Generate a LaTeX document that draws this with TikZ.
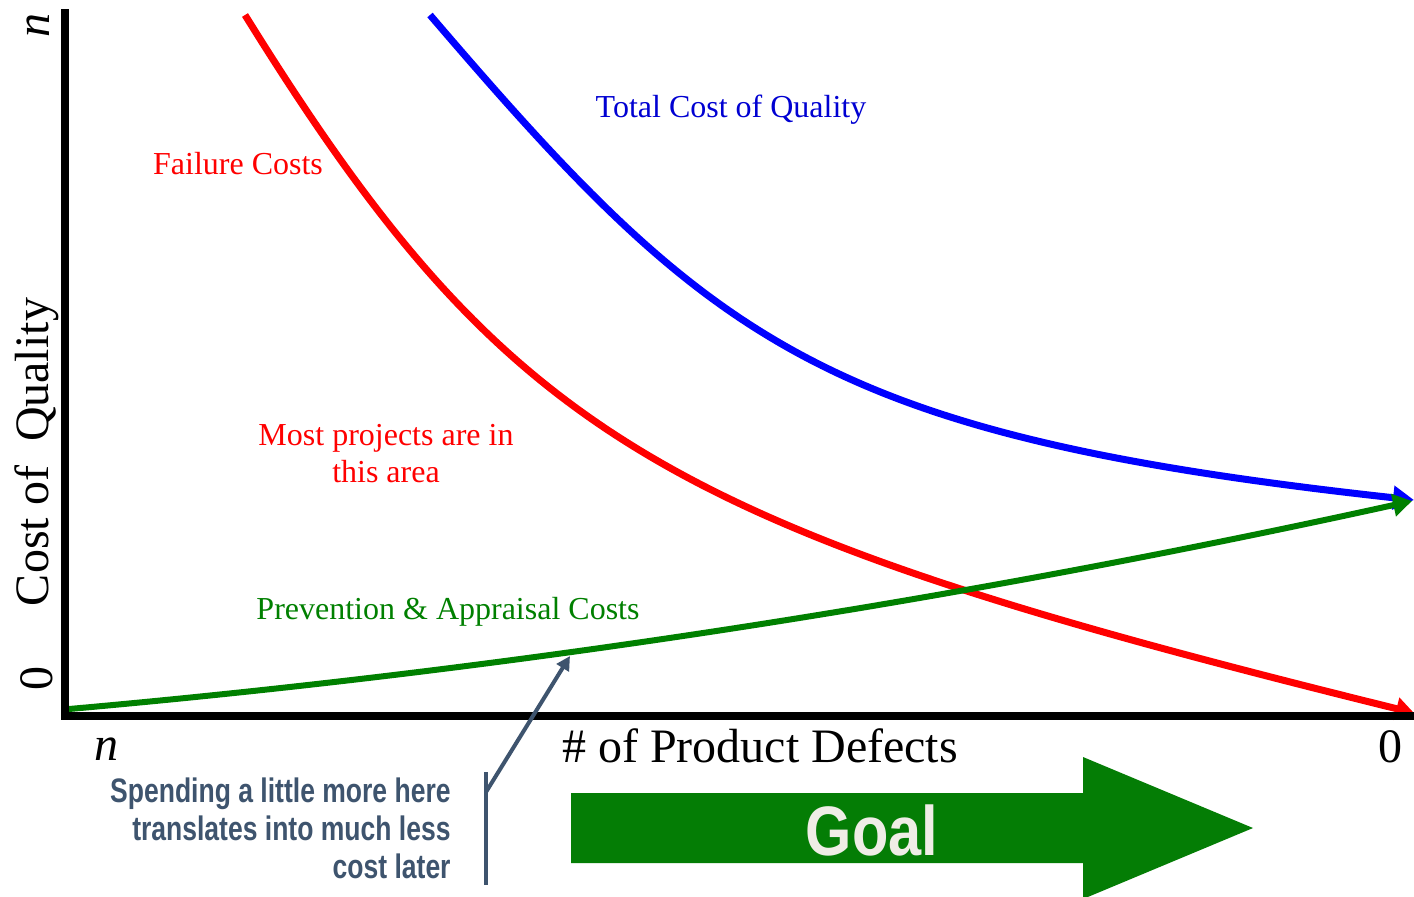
\documentclass[tikz,border=0pt]{standalone}
\usepackage{fontspec}
\setmainfont{Liberation Serif}
\newfontfamily\narrowsans[FakeStretch=0.78]{Liberation Sans}
\newfontfamily\goalsans[FakeStretch=0.85]{Liberation Sans}
\usetikzlibrary{arrows.meta}
\definecolor{curvered}{RGB}{255,0,0}
\definecolor{curveblue}{RGB}{0,0,255}
\definecolor{labelblue}{RGB}{0,0,210}
\definecolor{curvegreen}{RGB}{0,128,0}
\definecolor{goalgreen}{RGB}{4,125,5}
\definecolor{goaltext}{RGB}{239,237,230}
\definecolor{slate}{RGB}{62,84,110}
\tikzset{
  axisline/.style={line width=4pt, line cap=butt},
  curve/.style={line width=3.5pt, line cap=butt},
  curvelabel/.style={inner sep=0pt, anchor=base, font=\fontsize{16}{18.5}\selectfont},
  axislabel/.style={inner sep=0pt, font=\fontsize{24}{28}\selectfont},
  notetext/.style={inner sep=0pt, text=slate, align=right, font=\narrowsans\bfseries\fontsize{17}{19}\selectfont},
}
\begin{document}
\begin{tikzpicture}[x=0.5pt,y=-0.5pt]
\path[use as bounding box, fill=white] (0,0) rectangle (1414,896);

% curve end points
\coordinate (redstart) at (245,15);
\coordinate (redend) at (1414,713);
\coordinate (bluestart) at (430,15);
\coordinate (blueend) at (1414,500);
\coordinate (greenstart) at (69,709);
\coordinate (greenend) at (1412,501);

% curves
\draw[curve, curvered, -{Triangle[length=9pt,width=11pt]}]
  (redstart) .. controls (510,442) and (666,528) .. (redend);
\draw[curve, curveblue, -{Triangle[length=10.5pt,width=11.5pt]}]
  (bluestart) .. controls (711,343) and (822,435) .. (blueend);
\draw[curve, line width=3pt, curvegreen, -{Triangle[length=9.5pt,width=11pt]}]
  (greenstart) .. controls (519,669) and (962,600) .. (greenend);

% axes
\coordinate (origin) at (64.5,715.5);
\coordinate (ytop) at (64.5,9);
\coordinate (xend) at (1414,715.5);
\draw[axisline] (ytop) -- (origin) -- (xend);

% axis labels
\node[axislabel, rotate=90] (ymax) at (38,25) {\itshape n};
\node[axislabel, rotate=90] (yzero) at (37,678) {0};
\node[axislabel, rotate=90] (ytitle) at (37,452) {Cost of\ \ Quality};
\node[axislabel, anchor=base] (xmax) at (106,760) {\itshape n};
\node[axislabel, anchor=base] (xtitle) at (760,762) {\# of Product Defects};
\node[axislabel, anchor=base] (xzero) at (1390,762) {0};

% curve labels
\node[curvelabel, text=labelblue] (totallbl) at (731,117) {Total Cost of Quality};
\node[curvelabel, text=curvered] (faillbl) at (238,174) {Failure Costs};
\node[curvelabel, text=curvered, anchor=north, align=center] (mostlbl) at (386,424) {Most projects are in\\this area};
\node[curvelabel, text=curvegreen] (prevlbl) at (448,619) {Prevention \& Appraisal Costs};

% annotation
\node[notetext, anchor=north east] (note) at (451,777) {Spending a little more here\\translates into much less\\cost later};
\coordinate (bartop) at (486,772);
\coordinate (barbot) at (486,885);
\coordinate (barjoin) at (486,792);
\coordinate (notetip) at (570,656);
\draw[slate, line width=2pt] (bartop) -- (barbot);
\draw[slate, line width=2pt, -{Triangle[length=7pt,width=7pt]}] (barjoin) -- (notetip);

% goal arrow
\fill[goalgreen] (571,793) -- (1083,793) -- (1083,757) -- (1253,828) -- (1083,899) -- (1083,863) -- (571,863) -- cycle;
\node[inner sep=0pt, anchor=base, text=goaltext, font=\goalsans\bfseries\fontsize{35}{40}\selectfont] (goal) at (872,855) {Goal};
\end{tikzpicture}
\end{document}
